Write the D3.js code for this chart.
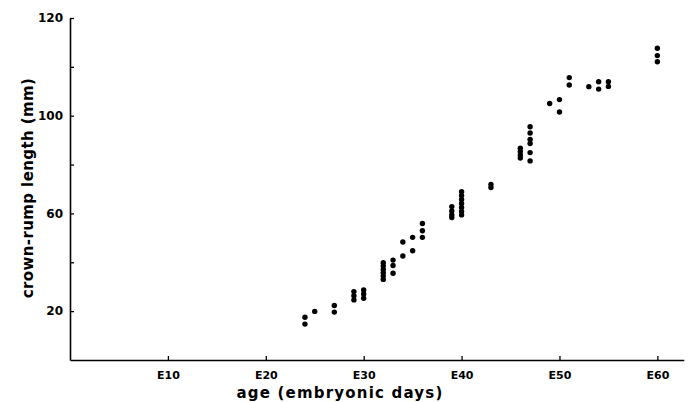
<!DOCTYPE html>
<html><head><meta charset="utf-8">
<script src="https://cdn.jsdelivr.net/npm/d3@7"></script>
<style>body{margin:0;background:#fff}svg{display:block}</style>
</head><body>
<svg id="c" width="690" height="402"></svg>
<script>
// age in embryonic days and crown-rump length (in axis units)
const days = [24,24,25,27,27,29,29,29,30,30,30,32,32,32,32,32,32,33,33,33,34,34,35,35,36,36,36,
  39,39,39,39,40,40,40,40,40,40,40,43,43,46,46,46,46,47,47,47,47,47,47,49,50,50,51,51,53,54,54,55,55,60,60,60];
const lengths = [17.5,14.7,19.9,22.3,19.6,28.0,26.3,24.6,28.7,27.0,25.3,39.8,38.5,37.1,35.7,34.4,33.0,40.9,38.7,35.5,48.3,42.6,50.2,44.7,55.9,52.9,50.2,
  62.8,61.0,59.4,58.3,68.9,67.3,65.7,64.1,62.4,60.8,59.4,71.9,70.6,86.7,85.3,83.9,82.7,95.5,92.9,90.3,88.6,84.9,81.5,105.0,106.6,101.5,115.6,112.6,111.9,113.9,110.9,113.9,112.0,127.6,124.6,122.1];
const xTicks = [10,20,30,40,50,60];
const xTickLabels = ["E10","E20","E30","E40","E50","E60"];
const yMajorTicks = [20,60,100,140];
const yTickLabels = ["20","60","100","120"];
const yMinorTicks = [40,80,120];

const svg = d3.select("#c");
const x = d3.scaleLinear().domain([0,62.7]).range([70,683.8]);
const y = d3.scaleLinear().domain([0,140]).range([360,18]);
const font = "'DejaVu Sans', sans-serif";

// x axis
const xAxis = d3.axisBottom(x).tickValues(xTicks).tickSize(-4).tickSizeOuter(0)
  .tickFormat((d,i)=>xTickLabels[i]);
const gx = svg.append("g").attr("transform","translate(0,360)").call(xAxis);
gx.select(".domain").attr("stroke","#000").attr("stroke-width",1.6);
gx.selectAll(".tick line").attr("stroke","#000").attr("stroke-width",1.3);
gx.selectAll(".tick text").attr("y",11).attr("font-family",font).attr("font-weight","bold")
  .attr("font-size",11).attr("fill","#000");

// y axis
const yAxis = d3.axisLeft(y).tickValues(yMajorTicks).tickSize(-4).tickSizeOuter(0)
  .tickFormat((d,i)=>yTickLabels[i]);
const gy = svg.append("g").attr("transform","translate(70,0)").call(yAxis);
gy.select(".domain").attr("stroke","#000").attr("stroke-width",1.6);
gy.selectAll(".tick line").attr("stroke","#000").attr("stroke-width",1.3);
gy.selectAll(".tick text").attr("x",-7).attr("font-family",font).attr("font-weight","bold")
  .attr("font-size",12).attr("fill","#000");
const yMinor = d3.axisLeft(y).tickValues(yMinorTicks).tickSize(-4).tickSizeOuter(0).tickFormat("");
const gym = svg.append("g").attr("transform","translate(70,0)").call(yMinor);
gym.select(".domain").remove();
gym.selectAll(".tick line").attr("stroke","#000").attr("stroke-width",1.3);

// axis titles
svg.append("text").attr("x",340).attr("y",398).attr("text-anchor","middle")
  .attr("font-family",font).attr("font-weight","bold").attr("font-size",15).attr("fill","#000")
  .attr("letter-spacing",1.2)
  .text("age (embryonic days)");
svg.append("text").attr("transform","translate(33,188) rotate(-90)").attr("text-anchor","middle")
  .attr("font-family",font).attr("font-weight","bold").attr("font-size",15).attr("fill","#000")
  .attr("letter-spacing",0.4)
  .text("crown-rump length (mm)");

// points
svg.append("g").selectAll("circle").data(days.map((d,i)=>[d,lengths[i]])).join("circle")
  .attr("cx",d=>x(d[0])).attr("cy",d=>y(d[1])).attr("r",2.7).attr("fill","#000");
</script>
</body></html>
